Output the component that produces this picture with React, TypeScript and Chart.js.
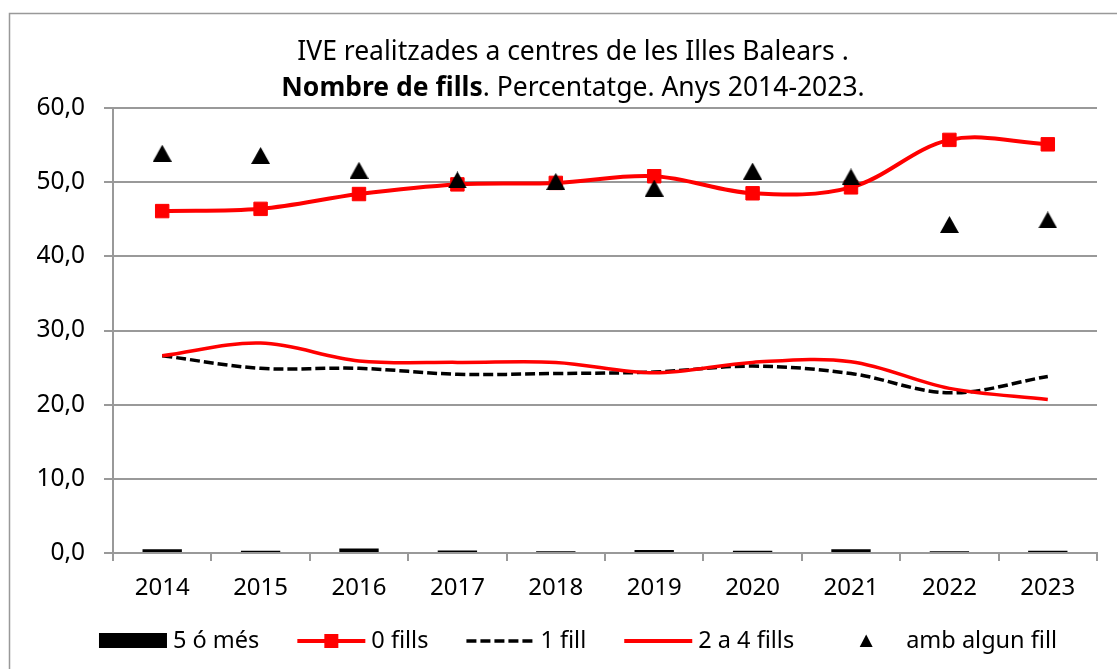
import React, { useEffect, useRef } from 'react';
import { Chart, registerables } from 'chart.js';

Chart.register(...registerables);

const years = ['2014', '2015', '2016', '2017', '2018', '2019', '2020', '2021', '2022', '2023'];
const cincOMes = [0.5, 0.3, 0.6, 0.35, 0.25, 0.4, 0.3, 0.5, 0.25, 0.3];
const zeroFills = [46.1, 46.4, 48.4, 49.7, 49.9, 50.8, 48.5, 49.3, 55.7, 55.1];
const unFill = [26.6, 24.9, 24.9, 24.1, 24.2, 24.4, 25.2, 24.2, 21.6, 23.8];
const dosAQuatre = [26.6, 28.3, 25.9, 25.7, 25.7, 24.3, 25.7, 25.8, 22.2, 20.7];
const ambAlgunFill = [53.9, 53.6, 51.6, 50.3, 50.1, 49.2, 51.5, 50.7, 44.3, 44.9];

const seriesNames = ['5 ó més', '0 fills', '1 fill', '2 a 4 fills', 'amb algun fill'];
const titleLine1 = 'IVE realitzades a centres de les Illes Balears .';
const titleLine2Bold = 'Nombre de fills';
const titleLine2Rest = '. Percentatge. Anys 2014-2023.';
const yTicks = [0, 10, 20, 30, 40, 50, 60];

const FONT = '"Noto Sans", "Open Sans", sans-serif';
const GRID = '#999999';
const TITLE_SIZE = 26.5;
const LEGEND_SIZE = 23.5;

function makeTriangle(w: number, h: number): HTMLCanvasElement {
  const c = document.createElement('canvas');
  c.width = w;
  c.height = h;
  const g = c.getContext('2d')!;
  g.fillStyle = '#000';
  g.beginPath();
  g.moveTo(w / 2, 0);
  g.lineTo(w, h);
  g.lineTo(0, h);
  g.closePath();
  g.fill();
  return c;
}

const decorPlugin = {
  id: 'decor',
  beforeDraw(chart: any) {
    const ctx = chart.ctx as CanvasRenderingContext2D;
    ctx.save();
    ctx.fillStyle = '#fff';
    ctx.fillRect(0, 0, chart.width, chart.height);
    ctx.strokeStyle = GRID;
    ctx.lineWidth = 1.5;
    ctx.strokeRect(9.5, 13.5, 1300, 800);
    ctx.restore();
  },
  afterDraw(chart: any) {
    const ctx = chart.ctx as CanvasRenderingContext2D;
    ctx.save();
    ctx.fillStyle = '#000';
    ctx.textBaseline = 'middle';
    // Title
    const cx = 573;
    ctx.font = `${TITLE_SIZE}px ${FONT}`;
    ctx.textAlign = 'center';
    ctx.fillText(titleLine1, cx, 52);
    ctx.textAlign = 'left';
    ctx.font = `bold ${TITLE_SIZE}px ${FONT}`;
    const wb = ctx.measureText(titleLine2Bold).width;
    ctx.font = `${TITLE_SIZE}px ${FONT}`;
    const wr = ctx.measureText(titleLine2Rest).width;
    const x = cx - (wb + wr) / 2;
    ctx.font = `bold ${TITLE_SIZE}px ${FONT}`;
    ctx.fillText(titleLine2Bold, x, 88);
    ctx.font = `${TITLE_SIZE}px ${FONT}`;
    ctx.fillText(titleLine2Rest, x + wb, 88);

    // Legend
    ctx.font = `${LEGEND_SIZE}px ${FONT}`;
    const symW = 68;
    const textGap = 6;
    const itemGap = 38;
    const widths = seriesNames.map((n) => ctx.measureText(n).width);
    const total = widths.reduce((a, b) => a + b, 0) + seriesNames.length * (symW + textGap) + (seriesNames.length - 1) * itemGap;
    let lx = 578 - total / 2;
    const ly = 641;
    seriesNames.forEach((name, i) => {
      const sx = lx;
      const mid = sx + symW / 2;
      if (i === 0) {
        ctx.fillStyle = '#000';
        ctx.fillRect(sx, ly - 8, symW, 15);
      } else if (i === 1) {
        ctx.strokeStyle = '#ff0000';
        ctx.lineWidth = 4;
        ctx.beginPath();
        ctx.moveTo(sx, ly);
        ctx.lineTo(sx + symW, ly);
        ctx.stroke();
        ctx.fillStyle = '#ff0000';
        ctx.fillRect(mid - 7, ly - 7, 14, 14);
      } else if (i === 2) {
        ctx.strokeStyle = '#000';
        ctx.lineWidth = 3.5;
        ctx.setLineDash([10, 4]);
        ctx.beginPath();
        ctx.moveTo(sx, ly);
        ctx.lineTo(sx + symW, ly);
        ctx.stroke();
        ctx.setLineDash([]);
      } else if (i === 3) {
        ctx.strokeStyle = '#ff0000';
        ctx.lineWidth = 4;
        ctx.beginPath();
        ctx.moveTo(sx, ly);
        ctx.lineTo(sx + symW, ly);
        ctx.stroke();
      } else {
        ctx.fillStyle = '#000';
        ctx.beginPath();
        ctx.moveTo(mid, ly - 6.5);
        ctx.lineTo(mid + 6.5, ly + 6);
        ctx.lineTo(mid - 6.5, ly + 6);
        ctx.closePath();
        ctx.fill();
      }
      ctx.fillStyle = '#000';
      ctx.textAlign = 'left';
      ctx.fillText(name, sx + symW + textGap, ly);
      lx += symW + textGap + widths[i] + itemGap;
    });
    ctx.restore();
  },
};

export default function App() {
  const ref = useRef<HTMLCanvasElement | null>(null);
  useEffect(() => {
    if (!ref.current) return;
    const tri = makeTriangle(19, 17);
    const chart = new Chart(ref.current, {
      type: 'bar',
      data: {
        labels: years,
        datasets: [
          {
            type: 'bar',
            label: seriesNames[0],
            data: cincOMes,
            backgroundColor: '#000',
            borderWidth: 0,
            barPercentage: 0.4,
            categoryPercentage: 1,
            order: 5,
          } as any,
          {
            type: 'line',
            label: seriesNames[1],
            data: zeroFills,
            borderColor: '#ff0000',
            backgroundColor: '#ff0000',
            borderWidth: 4,
            tension: 0.35,
            pointStyle: 'rect',
            pointRadius: 9.5,
            pointBorderWidth: 1,
            pointBorderColor: '#ff0000',
            pointBackgroundColor: '#ff0000',
            order: 4,
          },
          {
            type: 'line',
            label: seriesNames[2],
            data: unFill,
            borderColor: '#000',
            borderWidth: 3.5,
            borderDash: [10, 4],
            tension: 0.35,
            pointRadius: 0,
            order: 3,
          },
          {
            type: 'line',
            label: seriesNames[3],
            data: dosAQuatre,
            borderColor: '#ff0000',
            borderWidth: 3.5,
            tension: 0.35,
            pointRadius: 0,
            order: 2,
          },
          {
            type: 'line',
            label: seriesNames[4],
            data: ambAlgunFill,
            showLine: false,
            pointStyle: tri as any,
            pointRadius: 9,
            order: 1,
          },
        ],
      },
      options: {
        animation: false,
        responsive: false,
        maintainAspectRatio: false,
        layout: { padding: { top: 108, right: 20, bottom: 0, left: 0 } },
        plugins: {
          legend: { display: false },
          title: { display: false },
          tooltip: { enabled: false },
        },
        scales: {
          x: {
            offset: true,
            grid: {
              offset: true,
              drawOnChartArea: false,
              drawTicks: true,
              tickLength: 8,
              color: GRID,
              lineWidth: 2,
            },
            border: { display: true, color: GRID, width: 2 },
            ticks: {
              color: '#000',
              font: { family: FONT, size: 24 },
              padding: 13,
              maxRotation: 0,
            },
            afterFit: (s: any) => {
              s.height = 116;
            },
          },
          y: {
            min: 0,
            max: 60,
            afterBuildTicks: (s: any) => {
              s.ticks = yTicks.map((v) => ({ value: v }));
            },
            grid: { color: GRID, lineWidth: 2, tickLength: 9 },
            border: { display: true, color: GRID, width: 2 },
            ticks: {
              color: '#000',
              font: { family: FONT, size: 24.5 },
              padding: 19,
              callback: (v: any) => Number(v).toFixed(1).replace('.', ','),
            },
            afterFit: (s: any) => {
              s.width = 113;
            },
          },
        },
      },
      plugins: [decorPlugin],
    });
    return () => chart.destroy();
  }, []);
  return (
    <div style={{ position: 'fixed', left: 0, top: 0, width: 1117, height: 669, background: '#fff' }}>
      <canvas ref={ref} width={1117} height={669} style={{ display: 'block' }} />
    </div>
  );
}
